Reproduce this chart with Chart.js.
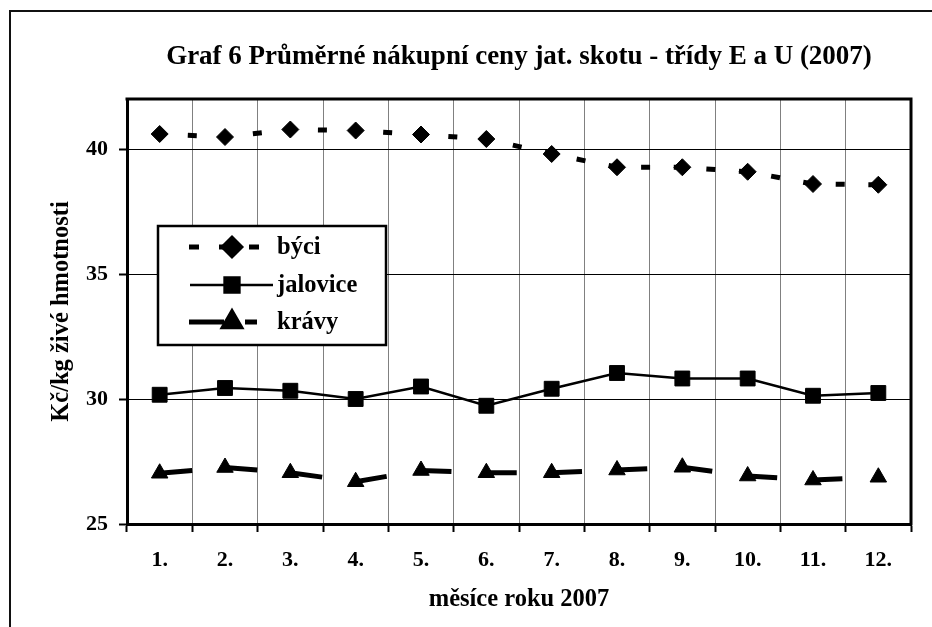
<!DOCTYPE html>
<html>
<head>
<meta charset="utf-8">
<script src="https://cdn.jsdelivr.net/npm/chart.js@4.4.1/dist/chart.umd.min.js"></script>
<style>
  html, body { margin: 0; padding: 0; background: #fff; }
</style>
</head>
<body>
<canvas id="chart" width="932" height="627"></canvas>
<script>
// data
const months = ['1.', '2.', '3.', '4.', '5.', '6.', '7.', '8.', '9.', '10.', '11.', '12.'];
const byci = [40.6, 40.48, 40.78, 40.74, 40.58, 40.4, 39.8, 39.27, 39.27, 39.09, 38.6, 38.57];
const jalovice = [30.17, 30.44, 30.33, 30.0, 30.5, 29.73, 30.41, 31.04, 30.82, 30.82, 30.13, 30.24];
const kravy = [27.03, 27.26, 27.05, 26.69, 27.14, 27.05, 27.05, 27.16, 27.27, 26.92, 26.76, 26.87];
const seriesNames = ['býci', 'jalovice', 'krávy'];
const yTicks = [25, 30, 35, 40];

const FONT = "'Liberation Serif', 'Times New Roman', serif";
const chartTitle = 'Graf 6 Průměrné nákupní ceny jat. skotu - třídy E a U (2007)';

// legend samples (dash pattern of the little line in the legend box)
const legendSamples = [
  { dash: [10, 20], from: 189, to: 262 },
  { dash: [], from: 190, to: 273 },
  { dash: [35, 21], from: 189, to: 257 }
];

// frame, plot border and title
const framePlugin = {
  id: 'frame',
  afterDraw(chart) {
    const { ctx, chartArea: a } = chart;
    ctx.save();
    ctx.strokeStyle = '#111';
    ctx.lineWidth = 2;
    ctx.beginPath();
    ctx.moveTo(10, 640);
    ctx.lineTo(10, 11);
    ctx.lineTo(940, 11);
    ctx.stroke();

    ctx.strokeStyle = '#000';
    ctx.lineWidth = 3;
    ctx.beginPath();
    ctx.moveTo(a.left - 1.5, a.top);
    ctx.lineTo(a.right, a.top);
    ctx.lineTo(a.right, a.bottom + 1.5);
    ctx.stroke();

    ctx.fillStyle = '#000';
    ctx.font = 'bold 27px ' + FONT;
    ctx.textAlign = 'center';
    ctx.textBaseline = 'middle';
    ctx.fillText(chartTitle, (a.left + a.right) / 2, 57);
    ctx.restore();
  }
};

// boxed legend with line + marker samples
const boxLegend = {
  id: 'boxLegend',
  afterDatasetsDraw(chart) {
    const ctx = chart.ctx;
    const box = { x: 158, y: 226, w: 228, h: 119 };
    const rows = [247, 285, 322];
    ctx.save();
    ctx.fillStyle = '#fff';
    ctx.fillRect(box.x, box.y, box.w, box.h);
    ctx.strokeStyle = '#000';
    ctx.lineWidth = 2.5;
    ctx.strokeRect(box.x, box.y, box.w, box.h);

    chart.data.datasets.forEach((ds, i) => {
      const y = rows[i];
      const s = legendSamples[i];
      ctx.strokeStyle = '#000';
      ctx.lineWidth = ds.borderWidth;
      ctx.setLineDash(s.dash);
      ctx.lineDashOffset = 0;
      ctx.beginPath();
      ctx.moveTo(s.from, y);
      ctx.lineTo(s.to, y);
      ctx.stroke();
      ctx.setLineDash([]);
      ctx.fillStyle = '#000';
      Chart.helpers.drawPoint(ctx, {
        pointStyle: ds.pointStyle,
        radius: ds.pointRadius,
        rotation: 0,
        borderWidth: 1
      }, 232, y);

      ctx.fillStyle = '#000';
      ctx.font = 'bold 24.5px ' + FONT;
      ctx.textAlign = 'left';
      ctx.textBaseline = 'middle';
      ctx.fillText(ds.label, 277, y + 1);
    });
    ctx.restore();
  }
};

new Chart(document.getElementById('chart'), {
  type: 'line',
  data: {
    labels: months,
    datasets: [
      {
        label: seriesNames[0],
        data: byci,
        borderColor: '#000',
        backgroundColor: '#000',
        borderWidth: 5,
        borderDash: [9, 23.65],
        borderDashOffset: 4.5,
        pointStyle: 'rectRot',
        pointRadius: 8.5,
        pointBorderWidth: 1,
        pointBorderColor: '#000',
        pointBackgroundColor: '#000'
      },
      {
        label: seriesNames[1],
        data: jalovice,
        borderColor: '#000',
        backgroundColor: '#000',
        borderWidth: 2.5,
        pointStyle: 'rect',
        pointRadius: 10.5,
        pointBorderWidth: 1,
        pointBorderColor: '#000',
        pointBackgroundColor: '#000'
      },
      {
        label: seriesNames[2],
        data: kravy,
        borderColor: '#000',
        backgroundColor: '#000',
        borderWidth: 5,
        borderDash: [32.65, 32.65],
        pointStyle: 'triangle',
        pointRadius: 9.5,
        pointBorderWidth: 1,
        pointBorderColor: '#000',
        pointBackgroundColor: '#000'
      }
    ]
  },
  options: {
    responsive: false,
    animation: false,
    devicePixelRatio: 1,
    events: [],
    layout: { padding: { top: 99, right: 21, bottom: 0, left: 0 } },
    plugins: {
      legend: { display: false },
      title: { display: false },
      tooltip: { enabled: false }
    },
    scales: {
      x: {
        offset: true,
        grid: {
          offset: true,
          color: '#808080',
          lineWidth: 1,
          tickColor: '#000',
          tickWidth: 2,
          tickLength: 8
        },
        border: { color: '#000', width: 3 },
        ticks: {
          color: '#000',
          font: { family: FONT, size: 22, weight: 'bold' },
          padding: 15,
          maxRotation: 0,
          autoSkip: false
        },
        title: {
          display: true,
          text: 'měsíce roku 2007',
          color: '#000',
          font: { family: FONT, size: 24.5, weight: 'bold' },
          padding: { top: 0, bottom: 13 }
        },
        afterFit: s => { s.height = 103; }
      },
      y: {
        min: 25,
        max: 42,
        afterBuildTicks: s => { s.ticks = yTicks.map(v => ({ value: v })); },
        grid: {
          color: '#000',
          lineWidth: 1,
          tickColor: '#000',
          tickWidth: 2,
          tickLength: 8
        },
        border: { color: '#000', width: 3 },
        ticks: {
          color: '#000',
          font: { family: FONT, size: 22, weight: 'bold' },
          padding: 11
        },
        title: {
          display: true,
          text: 'Kč/kg živé hmotnosti',
          color: '#000',
          font: { family: FONT, size: 24.5, weight: 'bold' },
          padding: { top: 47, bottom: 0 }
        },
        afterFit: s => { s.width = 127; }
      }
    }
  },
  plugins: [framePlugin, boxLegend]
});
</script>
</body>
</html>
